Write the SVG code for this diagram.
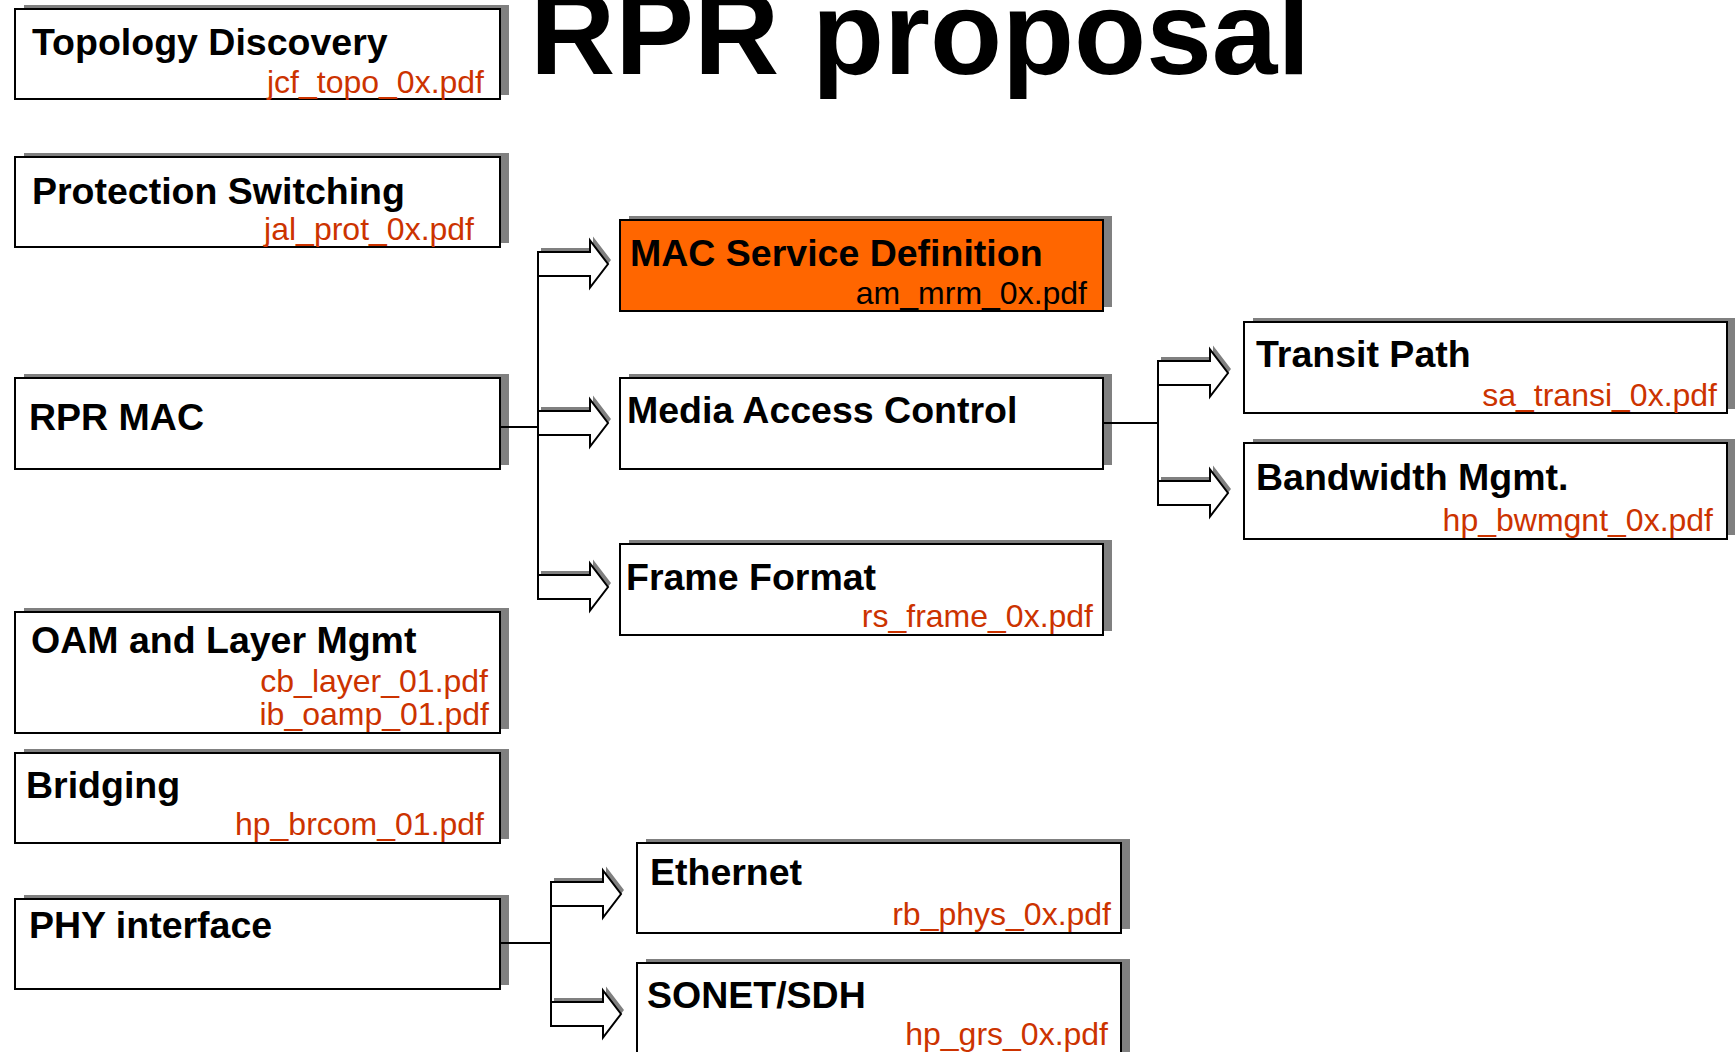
<svg xmlns="http://www.w3.org/2000/svg" xmlns:xlink="http://www.w3.org/1999/xlink" width="1735" height="1052" viewBox="0 0 1735 1052">
  <style>
    .box { fill: #ffffff; stroke: #000000; stroke-width: 2; }
    .box.hl { fill: #ff6600; }
    .shadow { fill: #808080; stroke: none; }
    .title { font-family: "Liberation Sans", Arial, sans-serif; font-weight: bold; font-size: 37.5px; fill: #000000; }
    .doc { font-family: "Liberation Sans", Arial, sans-serif; font-size: 32px; fill: #cc3300; text-anchor: end; }
    .doc.dark { fill: #000000; }
    .heading { font-family: "Liberation Sans", Arial, sans-serif; font-weight: bold; font-size: 118px; fill: #000000; }
    .wire { stroke: #000000; stroke-width: 2; fill: none; }
    .arrow { fill: #ffffff; stroke: #000000; stroke-width: 2; stroke-linejoin: miter; }
    .arrow-shadow { fill: #808080; stroke: none; }
  </style>
  <defs>
    <!-- hollow block arrow, origin at the middle of its tail -->
    <path id="blk" d="M0,-12 H52 V-23.5 L70,0 L52,23.5 V12 H0 Z"/>
    <g id="blockArrow">
      <use xlink:href="#blk" class="arrow-shadow" transform="translate(3,-4)"/>
      <use xlink:href="#blk" class="arrow"/>
    </g>
  </defs>

  <rect width="1735" height="1052" fill="#ffffff"/>

  <text class="heading" x="530" y="74">RPR proposal</text>

  <!-- left column -->
  <g id="topology-discovery">
    <rect class="shadow" x="24" y="5" width="485" height="90"/>
    <rect class="box" x="15" y="9" width="485" height="90"/>
    <text class="title" x="32" y="55">Topology Discovery</text>
    <text class="doc" x="484" y="93">jcf_topo_0x.pdf</text>
  </g>
  <g id="protection-switching">
    <rect class="shadow" x="24" y="153" width="485" height="90"/>
    <rect class="box" x="15" y="157" width="485" height="90"/>
    <text class="title" x="32" y="204">Protection Switching</text>
    <text class="doc" x="474" y="240">jal_prot_0x.pdf</text>
  </g>
  <g id="rpr-mac">
    <rect class="shadow" x="24" y="374" width="485" height="91"/>
    <rect class="box" x="15" y="378" width="485" height="91"/>
    <text class="title" x="29" y="430">RPR MAC</text>
  </g>
  <g id="oam-layer-mgmt">
    <rect class="shadow" x="24" y="608" width="485" height="121"/>
    <rect class="box" x="15" y="612" width="485" height="121"/>
    <text class="title" x="31" y="653">OAM and Layer Mgmt</text>
    <text class="doc" x="488" y="692">cb_layer_01.pdf</text>
    <text class="doc" x="489" y="725">ib_oamp_01.pdf</text>
  </g>
  <g id="bridging">
    <rect class="shadow" x="24" y="749" width="485" height="90"/>
    <rect class="box" x="15" y="753" width="485" height="90"/>
    <text class="title" x="26" y="798">Bridging</text>
    <text class="doc" x="484" y="835">hp_brcom_01.pdf</text>
  </g>
  <g id="phy-interface">
    <rect class="shadow" x="24" y="895" width="485" height="90"/>
    <rect class="box" x="15" y="899" width="485" height="90"/>
    <text class="title" x="29" y="938">PHY interface</text>
  </g>

  <!-- MAC sublayers -->
  <g id="mac-service-definition">
    <rect class="shadow" x="629" y="216" width="483" height="91"/>
    <rect class="box hl" x="620" y="220" width="483" height="91"/>
    <text class="title" x="630" y="266">MAC Service Definition</text>
    <text class="doc dark" x="1087" y="304">am_mrm_0x.pdf</text>
  </g>
  <g id="media-access-control">
    <rect class="shadow" x="629" y="374" width="483" height="91"/>
    <rect class="box" x="620" y="378" width="483" height="91"/>
    <text class="title" x="627" y="423">Media Access Control</text>
  </g>
  <g id="frame-format">
    <rect class="shadow" x="629" y="540" width="483" height="91"/>
    <rect class="box" x="620" y="544" width="483" height="91"/>
    <text class="title" x="626" y="590">Frame Format</text>
    <text class="doc" x="1093" y="627">rs_frame_0x.pdf</text>
  </g>

  <!-- MAC internals -->
  <g id="transit-path">
    <rect class="shadow" x="1253" y="318" width="483" height="91"/>
    <rect class="box" x="1244" y="322" width="483" height="91"/>
    <text class="title" x="1256" y="367">Transit Path</text>
    <text class="doc" x="1717" y="406">sa_transi_0x.pdf</text>
  </g>
  <g id="bandwidth-mgmt">
    <rect class="shadow" x="1253" y="439" width="483" height="96"/>
    <rect class="box" x="1244" y="443" width="483" height="96"/>
    <text class="title" x="1256" y="490">Bandwidth Mgmt.</text>
    <text class="doc" x="1713" y="531">hp_bwmgnt_0x.pdf</text>
  </g>

  <!-- physical layers -->
  <g id="ethernet">
    <rect class="shadow" x="646" y="839" width="484" height="90"/>
    <rect class="box" x="637" y="843" width="484" height="90"/>
    <text class="title" x="650" y="885">Ethernet</text>
    <text class="doc" x="1111" y="925">rb_phys_0x.pdf</text>
  </g>
  <g id="sonet-sdh">
    <rect class="shadow" x="646" y="959" width="484" height="110"/>
    <rect class="box" x="637" y="963" width="484" height="110"/>
    <text class="title" x="647" y="1008">SONET/SDH</text>
    <text class="doc" x="1108" y="1045">hp_grs_0x.pdf</text>
  </g>

  <g id="connectors">
    <!-- RPR MAC fan-out -->
    <line class="wire" x1="500" y1="427" x2="538" y2="427"/>
    <line class="wire" x1="538" y1="252" x2="538" y2="599"/>
    <use xlink:href="#blockArrow" transform="translate(538,264)"/>
    <use xlink:href="#blockArrow" transform="translate(538,423)"/>
    <use xlink:href="#blockArrow" transform="translate(538,587)"/>

    <!-- Media Access Control fan-out -->
    <line class="wire" x1="1103" y1="423" x2="1158" y2="423"/>
    <line class="wire" x1="1158" y1="362" x2="1158" y2="505"/>
    <use xlink:href="#blockArrow" transform="translate(1158,373)"/>
    <use xlink:href="#blockArrow" transform="translate(1158,493)"/>

    <!-- PHY fan-out -->
    <line class="wire" x1="500" y1="943" x2="551" y2="943"/>
    <line class="wire" x1="551" y1="882" x2="551" y2="1026"/>
    <use xlink:href="#blockArrow" transform="translate(551,894)"/>
    <use xlink:href="#blockArrow" transform="translate(551,1014)"/>
  </g>
</svg>
